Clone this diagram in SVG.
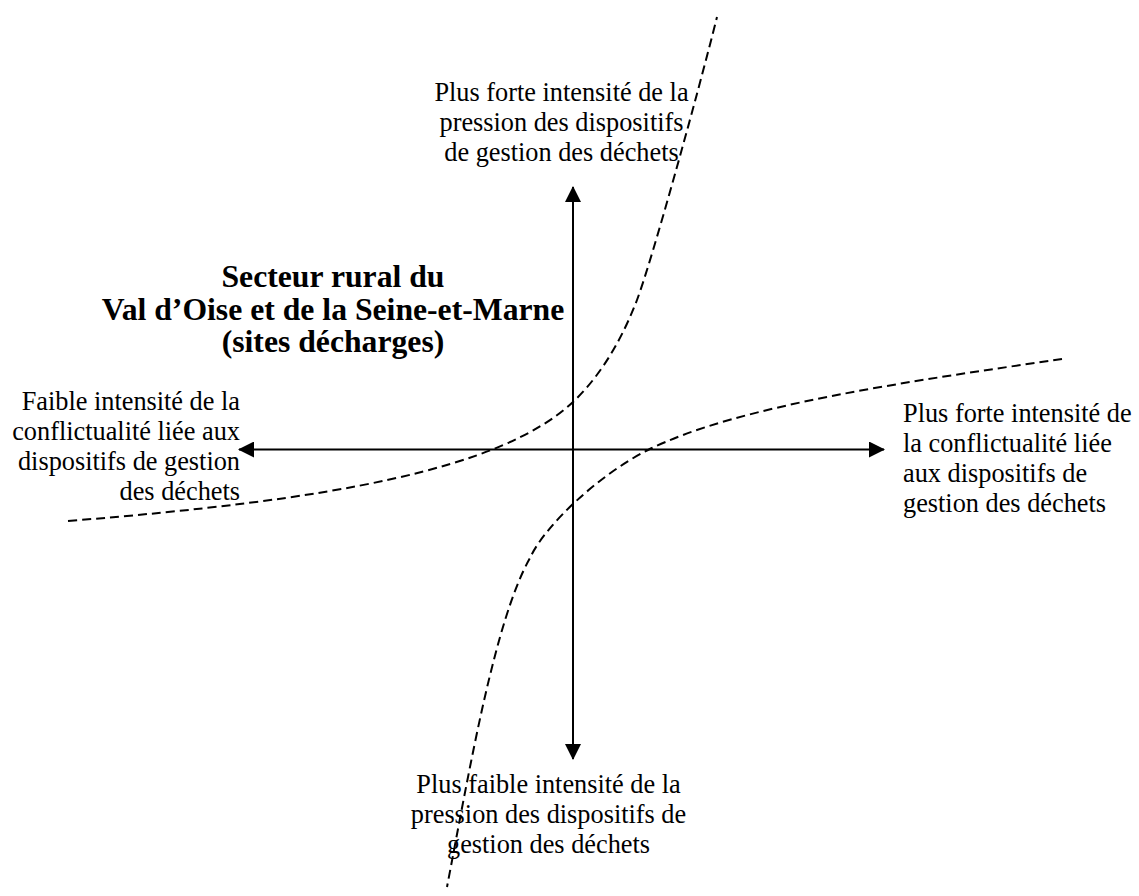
<svg xmlns="http://www.w3.org/2000/svg" width="1139" height="896" viewBox="0 0 1139 896">
<style>
.lbl{font-family:"Liberation Serif","Times New Roman",serif;font-size:26.3px;fill:#000}
.ttl{font-family:"Liberation Serif","Times New Roman",serif;font-size:31.7px;font-weight:bold;fill:#000}
.axis{stroke:#000;stroke-width:2;fill:none}
.dash{stroke:#000;stroke-width:2;fill:none;stroke-dasharray:9 5}
</style>
<defs>
<marker id="ah" markerUnits="userSpaceOnUse" markerWidth="16" markerHeight="16" viewBox="0 0 16 16" refX="15" refY="8" orient="auto">
<path d="M0,0 L16,8 L0,16 Z" fill="#000"/>
</marker>
</defs>
<rect width="1139" height="896" fill="#fff"/>
<g id="connectors">
<line class="axis" x1="573" y1="449.5" x2="573" y2="187" marker-end="url(#ah)"/>
<line class="axis" x1="573" y1="449.5" x2="573" y2="759" marker-end="url(#ah)"/>
<line class="axis" x1="573" y1="449.5" x2="239" y2="449.5" marker-end="url(#ah)"/>
<line class="axis" x1="573" y1="449.5" x2="884" y2="449.5" marker-end="url(#ah)"/>
<path id="curve1" class="dash" d="M68,521 C330,500 500,470 573,402 C593,383 617,352 637,300 C652,260 697,97 717,17"/>
<path id="curve2" class="dash" d="M1062,359 C912,381 738,405 648,450 C600,474 545,525 530,558 C495,620 470,767 447,887"/>
</g>
<g id="title">
<text class="ttl" text-anchor="middle" x="333" y="287">Secteur rural du</text>
<text class="ttl" text-anchor="middle" x="333" y="320">Val d’Oise et de la Seine-et-Marne</text>
<text class="ttl" text-anchor="middle" x="333" y="352">(sites décharges)</text>
</g>
<g id="top-label">
<text class="lbl" text-anchor="middle" x="561.5" y="100.5">Plus forte intensité de la</text>
<text class="lbl" text-anchor="middle" x="561.5" y="130.5">pression des dispositifs</text>
<text class="lbl" text-anchor="middle" x="561.5" y="160.5">de gestion des déchets</text>
</g>
<g id="left-label">
<text class="lbl" text-anchor="end" x="240" y="410">Faible intensité de la</text>
<text class="lbl" text-anchor="end" x="240" y="440">conflictualité liée aux</text>
<text class="lbl" text-anchor="end" x="240" y="470">dispositifs de gestion</text>
<text class="lbl" text-anchor="end" x="240" y="500">des déchets</text>
</g>
<g id="right-label">
<text class="lbl" x="903" y="421.5">Plus forte intensité de</text>
<text class="lbl" x="903" y="451.5">la conflictualité liée</text>
<text class="lbl" x="903" y="481.5">aux dispositifs de</text>
<text class="lbl" x="903" y="511.5">gestion des déchets</text>
</g>
<g id="bottom-label">
<text class="lbl" text-anchor="middle" x="548.5" y="793">Plus faible intensité de la</text>
<text class="lbl" text-anchor="middle" x="548.5" y="823">pression des dispositifs de</text>
<text class="lbl" text-anchor="middle" x="548.5" y="853">gestion des déchets</text>
</g>
</svg>
